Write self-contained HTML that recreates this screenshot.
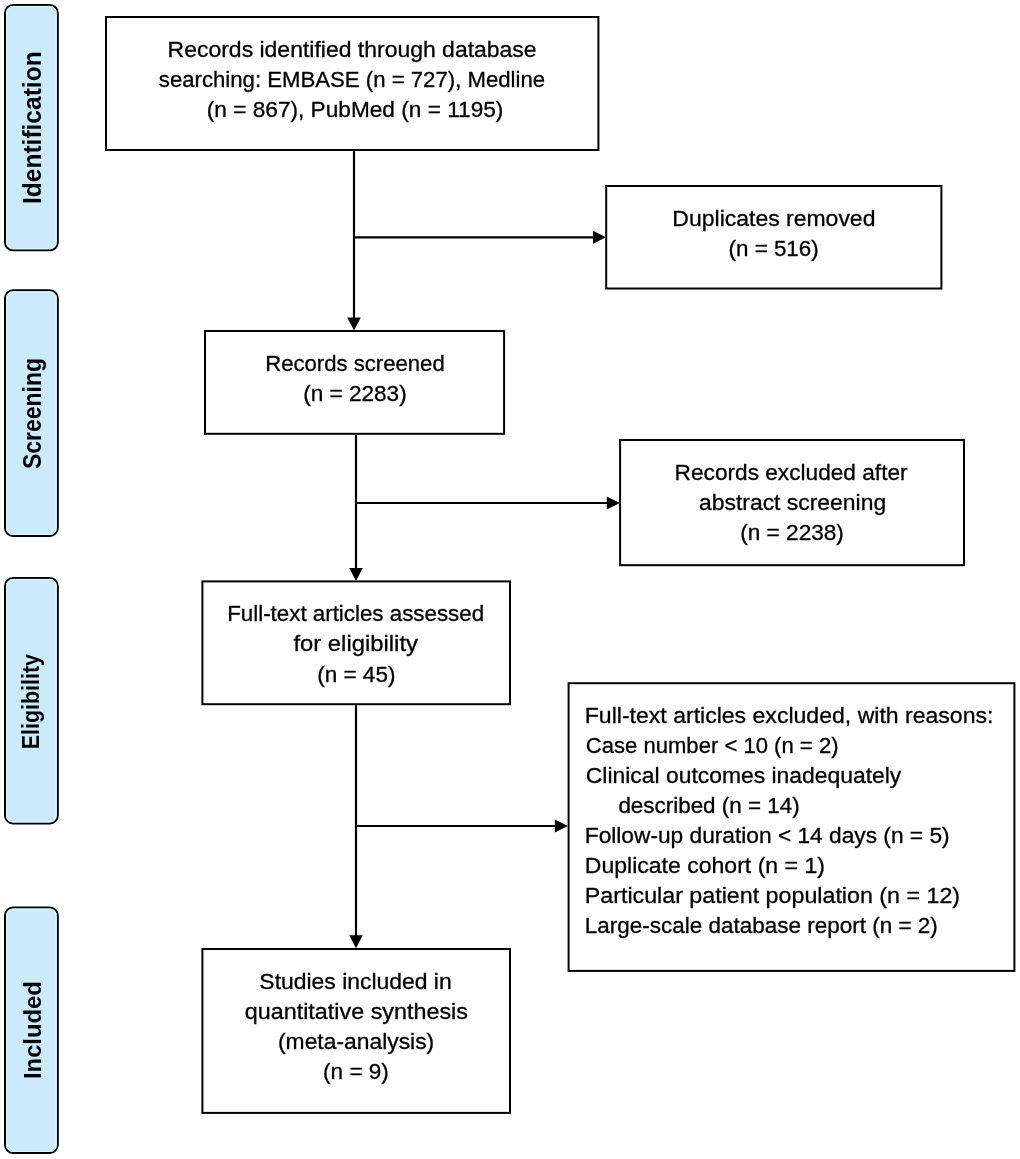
<!DOCTYPE html><html><head><meta charset="utf-8"><style>html,body{margin:0;padding:0;background:#fff;}svg{display:block;will-change:transform;}</style></head><body>
<svg width="1020" height="1159" viewBox="0 0 1020 1159">
<rect x="5" y="4.9" width="52.8" height="245.4" rx="8" ry="8" fill="#cbebfd" stroke="#000" stroke-width="2"/>
<rect x="6.5" y="6.4" width="49.8" height="242.4" rx="6.5" ry="6.5" fill="none" stroke="#dcfaff" stroke-width="1"/>
<rect x="5" y="290.3" width="52.8" height="245.7" rx="8" ry="8" fill="#cbebfd" stroke="#000" stroke-width="2"/>
<rect x="6.5" y="291.8" width="49.8" height="242.7" rx="6.5" ry="6.5" fill="none" stroke="#dcfaff" stroke-width="1"/>
<rect x="5" y="577.9" width="52.8" height="245.6" rx="8" ry="8" fill="#cbebfd" stroke="#000" stroke-width="2"/>
<rect x="6.5" y="579.4" width="49.8" height="242.6" rx="6.5" ry="6.5" fill="none" stroke="#dcfaff" stroke-width="1"/>
<rect x="5" y="907.5" width="52.8" height="245.5" rx="8" ry="8" fill="#cbebfd" stroke="#000" stroke-width="2"/>
<rect x="6.5" y="909.0" width="49.8" height="242.5" rx="6.5" ry="6.5" fill="none" stroke="#dcfaff" stroke-width="1"/>
<rect x="106" y="17" width="492.4" height="133.0" fill="#fff" stroke="#000" stroke-width="2"/>
<rect x="606.2" y="186" width="335.2" height="102.5" fill="#fff" stroke="#000" stroke-width="2"/>
<rect x="205" y="331" width="299.1" height="102.8" fill="#fff" stroke="#000" stroke-width="2"/>
<rect x="620.1" y="440" width="343.9" height="125.2" fill="#fff" stroke="#000" stroke-width="2"/>
<rect x="202.4" y="581.4" width="307.6" height="122.8" fill="#fff" stroke="#000" stroke-width="2"/>
<rect x="568.6" y="683.2" width="445.8" height="287.7" fill="#fff" stroke="#000" stroke-width="2"/>
<rect x="202.4" y="949" width="307.6" height="163.9" fill="#fff" stroke="#000" stroke-width="2"/>
<line x1="354" y1="151" x2="354" y2="318" stroke="#000" stroke-width="2.2"/>
<polygon points="347.25,317.5 360.75,317.5 354,330.5" fill="#000"/>
<line x1="354" y1="237.3" x2="594" y2="237.3" stroke="#000" stroke-width="2.2"/>
<polygon points="593,230.8 593,243.8 606,237.3" fill="#000"/>
<line x1="356" y1="434.8" x2="356" y2="569" stroke="#000" stroke-width="2.2"/>
<polygon points="349.25,568 362.75,568 356,581" fill="#000"/>
<line x1="356" y1="503" x2="608" y2="503" stroke="#000" stroke-width="2.2"/>
<polygon points="606.8,496.5 606.8,509.5 619.8,503" fill="#000"/>
<line x1="356" y1="705.2" x2="356" y2="936" stroke="#000" stroke-width="2.2"/>
<polygon points="349.25,935.3 362.75,935.3 356,948.3" fill="#000"/>
<line x1="356" y1="826" x2="556" y2="826" stroke="#000" stroke-width="2.2"/>
<polygon points="554.8,819.5 554.8,832.5 567.8,826" fill="#000"/>
<g font-family="Liberation Sans, sans-serif" font-size="22.4" fill="#000" stroke="#000" stroke-width="0.3">
<text x="167.59" y="56.7" textLength="369.07" lengthAdjust="spacingAndGlyphs" xml:space="preserve">Records identified through database</text>
<text x="158.80" y="86.6" textLength="386.33" lengthAdjust="spacingAndGlyphs" xml:space="preserve">searching: EMBASE (n = 727), Medline</text>
<text x="206.79" y="116.8" textLength="296.61" lengthAdjust="spacingAndGlyphs" xml:space="preserve">(n = 867), PubMed (n = 1195)</text>
<text x="672.39" y="226" textLength="203.06" lengthAdjust="spacingAndGlyphs" xml:space="preserve">Duplicates removed</text>
<text x="728.55" y="256.3" textLength="90.16" lengthAdjust="spacingAndGlyphs" xml:space="preserve">(n = 516)</text>
<text x="265.17" y="371" textLength="179.58" lengthAdjust="spacingAndGlyphs" xml:space="preserve">Records screened</text>
<text x="303.15" y="401" textLength="103.57" lengthAdjust="spacingAndGlyphs" xml:space="preserve">(n = 2283)</text>
<text x="674.59" y="480.2" textLength="233.04" lengthAdjust="spacingAndGlyphs" xml:space="preserve">Records excluded after</text>
<text x="698.98" y="510.2" textLength="187.18" lengthAdjust="spacingAndGlyphs" xml:space="preserve">abstract screening</text>
<text x="740.16" y="540.4" textLength="103.75" lengthAdjust="spacingAndGlyphs" xml:space="preserve">(n = 2238)</text>
<text x="227.18" y="621.1" textLength="256.92" lengthAdjust="spacingAndGlyphs" xml:space="preserve">Full-text articles assessed</text>
<text x="293.40" y="650.5" textLength="124.54" lengthAdjust="spacingAndGlyphs" xml:space="preserve">for eligibility</text>
<text x="317.17" y="681.5" textLength="78.27" lengthAdjust="spacingAndGlyphs" xml:space="preserve">(n = 45)</text>
<text x="584.78" y="723.1" textLength="408.67" lengthAdjust="spacingAndGlyphs" xml:space="preserve">Full-text articles excluded, with reasons:</text>
<text x="585.79" y="753" textLength="252.72" lengthAdjust="spacingAndGlyphs" xml:space="preserve">Case number &lt; 10 (n = 2)</text>
<text x="585.80" y="783" textLength="315.50" lengthAdjust="spacingAndGlyphs" xml:space="preserve">Clinical outcomes inadequately</text>
<text x="618.39" y="813" textLength="181.34" lengthAdjust="spacingAndGlyphs" xml:space="preserve">described (n = 14)</text>
<text x="584.78" y="843" textLength="364.83" lengthAdjust="spacingAndGlyphs" xml:space="preserve">Follow-up duration &lt; 14 days (n = 5)</text>
<text x="584.77" y="873" textLength="240.12" lengthAdjust="spacingAndGlyphs" xml:space="preserve">Duplicate cohort (n = 1)</text>
<text x="584.78" y="903" textLength="375.29" lengthAdjust="spacingAndGlyphs" xml:space="preserve">Particular patient population (n = 12)</text>
<text x="584.78" y="933" textLength="353.09" lengthAdjust="spacingAndGlyphs" xml:space="preserve">Large-scale database report (n = 2)</text>
<text x="259.38" y="989" textLength="192.30" lengthAdjust="spacingAndGlyphs" xml:space="preserve">Studies included in</text>
<text x="244.79" y="1019" textLength="223.16" lengthAdjust="spacingAndGlyphs" xml:space="preserve">quantitative synthesis</text>
<text x="277.99" y="1049" textLength="156.22" lengthAdjust="spacingAndGlyphs" xml:space="preserve">(meta-analysis)</text>
<text x="323.13" y="1079" textLength="65.72" lengthAdjust="spacingAndGlyphs" xml:space="preserve">(n = 9)</text>
</g>
<text transform="translate(41.10,204.04) rotate(-90)" x="0" y="0" font-family="Liberation Sans, sans-serif" font-weight="bold" font-size="25.44" textLength="152.67" lengthAdjust="spacingAndGlyphs">Identification</text>
<text transform="translate(41.30,469.02) rotate(-90)" x="0" y="0" font-family="Liberation Sans, sans-serif" font-weight="bold" font-size="26.16" textLength="110.97" lengthAdjust="spacingAndGlyphs">Screening</text>
<text transform="translate(38.85,749.22) rotate(-90)" x="0" y="0" font-family="Liberation Sans, sans-serif" font-weight="bold" font-size="23.26" textLength="95.25" lengthAdjust="spacingAndGlyphs">Eligibility</text>
<text transform="translate(40.80,1079.03) rotate(-90)" x="0" y="0" font-family="Liberation Sans, sans-serif" font-weight="bold" font-size="24.71" textLength="97.89" lengthAdjust="spacingAndGlyphs">Included</text>
</svg></body></html>
